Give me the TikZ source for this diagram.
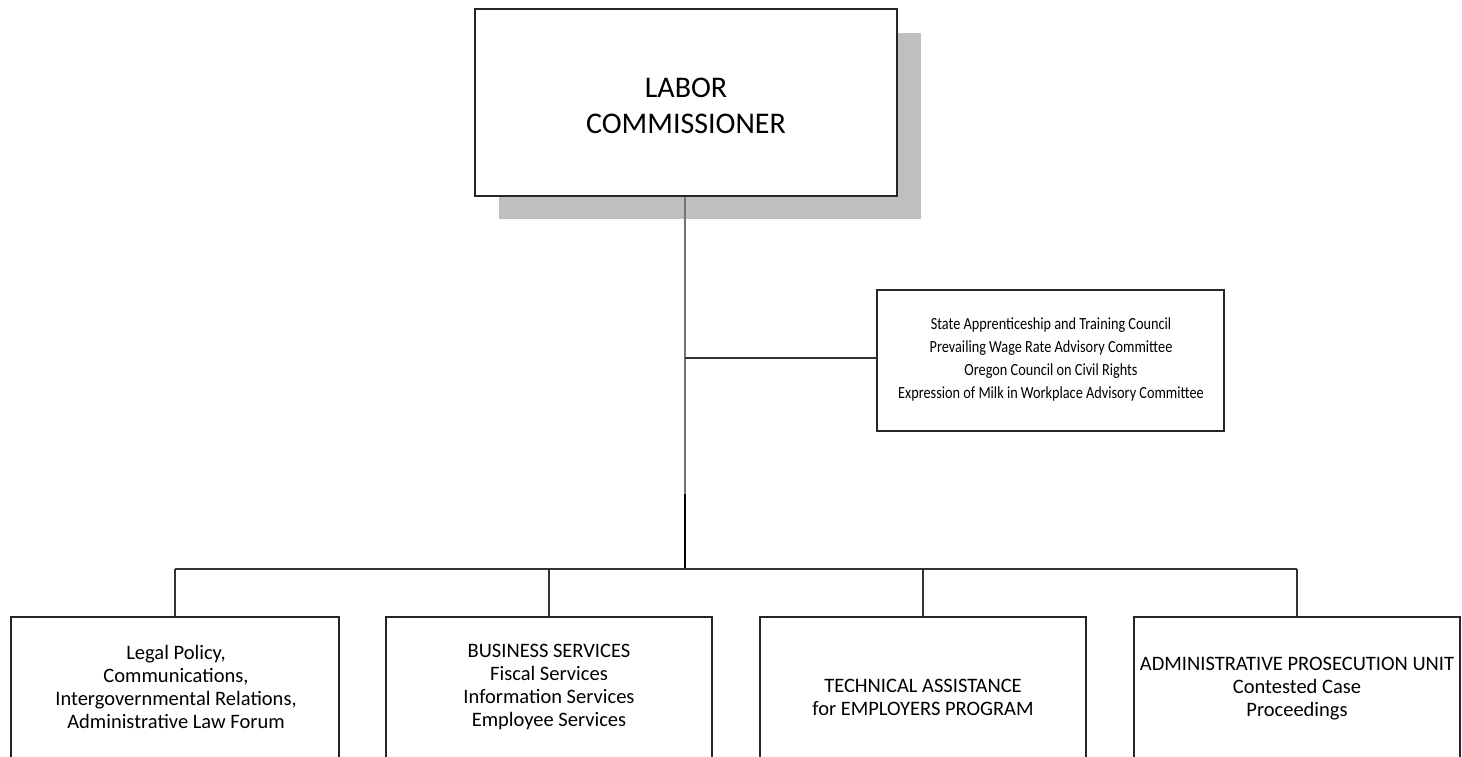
\documentclass[tikz,border=0pt]{standalone}
\usepackage{fontspec}
\setmainfont{Carlito}
\begin{document}
\begin{tikzpicture}[x=1pt,y=-1pt,
  box/.style={draw=black!85, line width=1.3pt, fill=white, inner sep=0pt, align=center},
  conn/.style={draw=black!80, line width=1.3pt},
  small/.style={font=\fontsize{20.5}{23}\selectfont, align=center, inner sep=0pt},
  side/.style={font=\fontsize{17}{23}\selectfont, align=center, inner sep=0pt},
  big/.style={font=\fontsize{30}{36}\selectfont, align=center, inner sep=0pt}]
\useasboundingbox (0,0) rectangle (1462,756);
\clip (0,0) rectangle (1462,756);
% shadow
\fill[black!25] (499,33) rectangle (921,219);
\node[box, minimum width=422pt, minimum height=187pt] (lc) at (686,102.5) {};
\node[big] (lct) at (686,106) {LABOR\\COMMISSIONER};
\node[box, minimum width=347pt, minimum height=141pt] (adv) at (1050.5,360.5) {};
\node[side] (advt) at (1051,359) {\scalebox{0.84}[1]{\begin{tabular}{@{}c@{}}State Apprenticeship and Training Council\\Prevailing Wage Rate Advisory Committee\\Oregon Council on Civil Rights\\Expression of Milk in Workplace Advisory Committee\end{tabular}}};
% bottom boxes
\node[box, minimum width=328pt, minimum height=170pt] (b1) at (175,702) {};
\node[box, minimum width=326pt, minimum height=170pt] (b2) at (549,702) {};
\node[box, minimum width=326pt, minimum height=170pt] (b3) at (923,702) {};
\node[box, minimum width=326pt, minimum height=170pt] (b4) at (1297,702) {};
\node[small] (t1) at (176,687) {Legal Policy,\\Communications,\\Intergovernmental Relations,\\Administrative Law Forum};
\node[small] (t2) at (549,687) {BUSINESS SERVICES\\Fiscal Services\\Information Services\\Employee Services};
\node[small] (t3) at (923,697) {TECHNICAL ASSISTANCE\\for EMPLOYERS PROGRAM};
\node[small] (t4) at (1297,689) {ADMINISTRATIVE PROSECUTION UNIT\\Contested Case\\Proceedings};
% connectors
\coordinate (mid) at (685,494);
\coordinate (bus) at (685,569);
\coordinate (tap) at (685,358);
\draw[draw=black!55, line width=1.2pt] (lc.south -| mid) -- (mid);
\draw[draw=black, line width=1.8pt] (mid) -- (bus);
\draw[conn] (tap) -- (tap -| adv.west);
\draw[conn] (b1.north |- bus) -- (b4.north |- bus);
\foreach \b in {b1,b2,b3,b4} \draw[conn] (\b.north |- bus) -- (\b.north);
\end{tikzpicture}
\end{document}
